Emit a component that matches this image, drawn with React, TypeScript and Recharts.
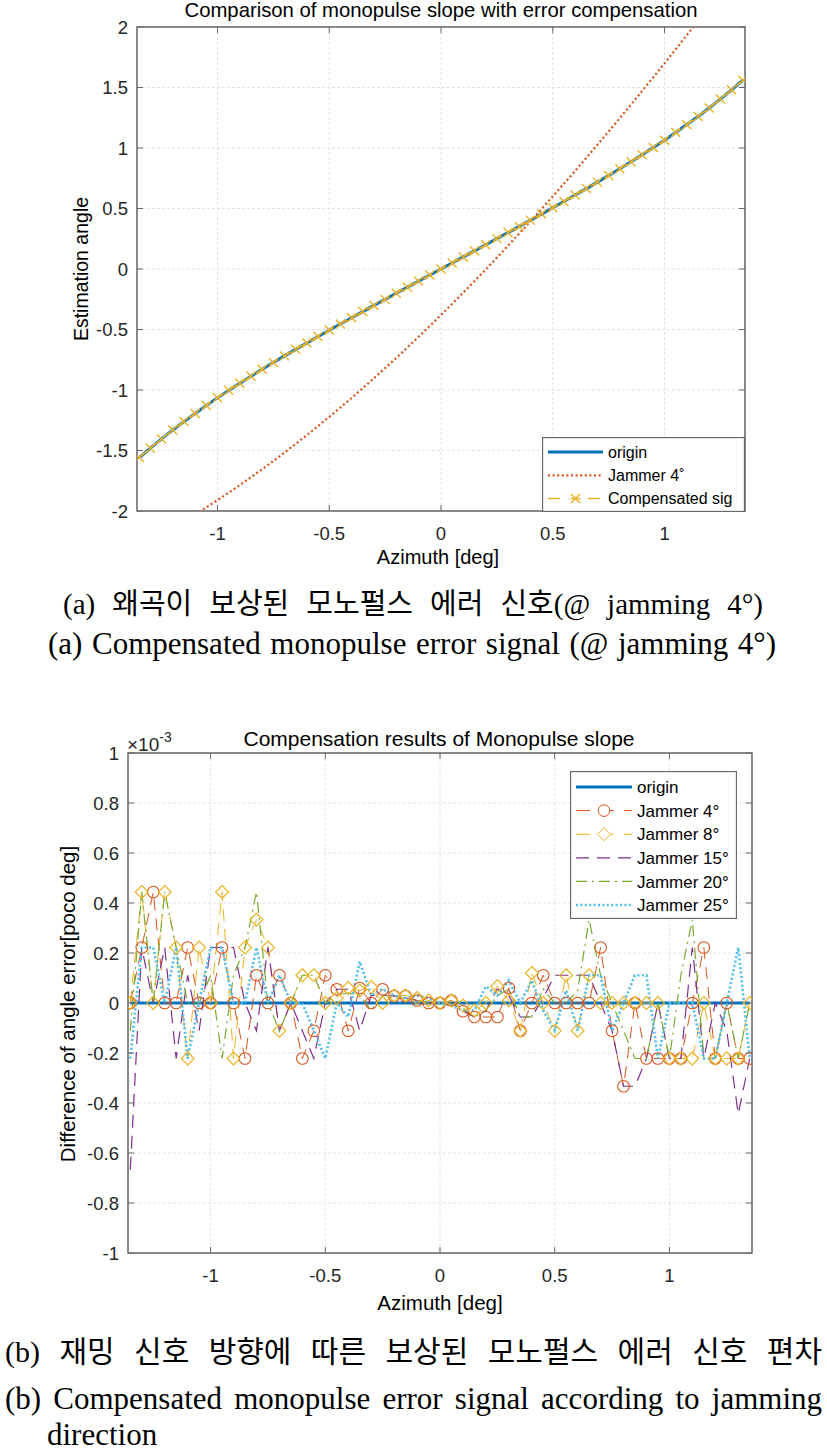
import React from 'react';
import { LineChart, Line, XAxis, YAxis, CartesianGrid, ReferenceArea, Legend } from 'recharts';

// azimuth samples [deg]
const azimuth = [
  -1.35, -1.3, -1.25, -1.2, -1.15, -1.1, -1.05, -1, -0.95, -0.9, -0.85, -0.8, -0.75, -0.7,
  -0.65, -0.6, -0.55, -0.5, -0.45, -0.4, -0.35, -0.3, -0.25, -0.2, -0.15, -0.1, -0.05, 0,
  0.05, 0.1, 0.15, 0.2, 0.25, 0.3, 0.35, 0.4, 0.45, 0.5, 0.55, 0.6, 0.65, 0.7, 0.75, 0.8,
  0.85, 0.9, 0.95, 1, 1.05, 1.1, 1.15, 1.2, 1.25, 1.3, 1.35,
];

// (a) monopulse slope
const originSlope = [
  -1.56, -1.481, -1.404, -1.331, -1.261, -1.194, -1.128, -1.065, -1.004, -0.944, -0.886, -0.829, -0.773, -0.718,
  -0.664, -0.611, -0.558, -0.506, -0.454, -0.403, -0.352, -0.301, -0.251, -0.2, -0.15, -0.1, -0.05, 0,
  0.05, 0.1, 0.15, 0.2, 0.251, 0.301, 0.352, 0.403, 0.454, 0.506, 0.558, 0.611, 0.664, 0.718, 0.773, 0.829,
  0.886, 0.944, 1.004, 1.065, 1.128, 1.194, 1.261, 1.331, 1.404, 1.481, 1.56,
];
const jammer4Slope = [
  -2.291, -2.242, -2.191, -2.138, -2.084, -2.028, -1.97, -1.91, -1.849, -1.786, -1.721, -1.655, -1.587, -1.517,
  -1.446, -1.373, -1.298, -1.222, -1.145, -1.066, -0.985, -0.903, -0.819, -0.734, -0.648, -0.56, -0.471, -0.38,
  -0.288, -0.194, -0.1, -0.004, 0.094, 0.193, 0.293, 0.394, 0.496, 0.6, 0.705, 0.811, 0.918, 1.027, 1.136, 1.247,
  1.359, 1.472, 1.585, 1.7, 1.816, 1.933, 2.051, 2.17, 2.29, 2.41, 2.531,
];
const compensatedSlope = [
  -1.558, -1.481, -1.405, -1.331, -1.26, -1.194, -1.129, -1.065, -1.003, -0.944, -0.887, -0.829, -0.772, -0.718,
  -0.664, -0.612, -0.558, -0.505, -0.454, -0.403, -0.352, -0.302, -0.251, -0.2, -0.151, -0.1, -0.05, 0,
  0.05, 0.1, 0.15, 0.2, 0.251, 0.302, 0.352, 0.403, 0.455, 0.506, 0.558, 0.611, 0.665, 0.718, 0.773, 0.829,
  0.886, 0.945, 1.004, 1.065, 1.128, 1.193, 1.261, 1.331, 1.404, 1.481, 1.559,
];

// (b) difference of angle error, x10^-3
const originDiff = [
  0, 0, 0, 0, 0, 0, 0, 0, 0, 0, 0, 0, 0, 0, 0, 0, 0, 0, 0, 0, 0, 0, 0, 0, 0, 0, 0, 0,
  0, 0, 0, 0, 0, 0, 0, 0, 0, 0, 0, 0, 0, 0, 0, 0, 0, 0, 0, 0, 0, 0, 0, 0, 0, 0, 0,
];
const jam4Diff = [
  0, 0.222, 0.444, 0, 0, 0.222, 0, 0, 0.222, 0, -0.222, 0.111, 0, 0.111,
  0, -0.222, -0.111, 0.111, 0.055, -0.111, 0.06, 0, 0.055, 0.028, 0.028, 0.01, 0, 0,
  0.01, -0.033, -0.056, -0.056, -0.056, 0.06, -0.111, 0, 0.111, 0, 0, 0, 0, 0.222, -0.111, -0.333,
  0, -0.222, -0.222, -0.222, -0.222, 0, 0.222, -0.222, 0, -0.222, -0.222,
];
const jam8Diff = [
  0, 0.444, 0, 0.444, 0.222, -0.222, 0.222, 0, 0.444, -0.222, 0.222, 0.333, 0.222, -0.111,
  0, 0.111, 0.111, 0, 0.02, 0.06, 0.05, 0.064, 0, 0.03, 0.03, 0.02, 0.01, 0,
  0.01, -0.01, -0.03, 0, 0.067, 0.01, -0.111, 0.12, 0, -0.111, 0.111, -0.111, 0.111, 0, 0, 0,
  0, 0, 0, -0.222, -0.222, -0.222, 0, -0.222, -0.222, -0.222, 0,
];
const jam15Diff = [
  -0.667, 0.222, 0, 0.222, -0.222, 0.111, -0.111, 0.222, 0.222, 0.222, 0, -0.111, 0.222, -0.111,
  0, -0.111, -0.222, 0, 0.055, 0.055, -0.111, 0.03, 0.03, 0.028, 0.02, 0.01, 0, 0,
  0, -0.03, -0.056, -0.03, 0.056, 0.03, -0.056, -0.056, 0.02, 0.111, 0.111, 0.111, 0.111, 0, -0.111, -0.333,
  -0.333, -0.222, 0, -0.222, -0.222, 0.222, -0.222, 0, -0.111, -0.444, -0.222,
];
const jam20Diff = [
  -0.111, 0.444, 0, 0.444, 0.222, 0, 0, 0.111, -0.222, 0.111, 0.222, 0.444, 0, -0.111,
  0, 0.111, 0.111, 0, 0.03, 0.04, 0.03, -0.03, 0.03, 0.02, 0.02, 0.01, 0, 0,
  0, -0.02, -0.056, -0.03, 0.03, 0.056, -0.056, -0.056, 0.056, 0, 0, 0.05, 0.333, 0.111, 0, -0.111,
  -0.222, -0.222, 0, -0.222, 0.111, 0.333, -0.222, -0.222, 0, -0.222, 0,
];
const jam25Diff = [
  -0.222, 0.222, 0.222, 0, 0.222, -0.222, 0, 0.222, 0.222, 0, 0, 0.222, 0, 0.111,
  0, 0, -0.111, -0.222, 0, -0.056, 0.166, 0.03, 0.056, 0.03, 0.02, 0.03, 0.02, 0,
  -0.01, -0.03, -0.03, 0.067, 0.03, 0.09, 0, 0.09, -0.03, -0.111, 0.05, -0.111, 0.111, 0.111, -0.111, 0,
  0.111, 0.111, -0.222, 0, 0, 0, -0.222, -0.222, 0, 0.222, -0.222,
];

const azTicks = [-1, -0.5, 0, 0.5, 1];
const slopeTicks = [2, 1.5, 1, 0.5, 0, -0.5, -1, -1.5, -2];
const diffTicks = [1, 0.8, 0.6, 0.4, 0.2, 0, -0.2, -0.4, -0.6, -0.8, -1];

const slopeData = azimuth.map((az, i) => ({
  az,
  origin: originSlope[i],
  jammer: jammer4Slope[i],
  comp: compensatedSlope[i],
}));

const diffData = azimuth.map((az, i) => ({
  az,
  origin: originDiff[i],
  j4: jam4Diff[i],
  j8: jam8Diff[i],
  j15: jam15Diff[i],
  j20: jam20Diff[i],
  j25: jam25Diff[i],
}));

const SANS = '"Liberation Sans", Arial, Helvetica, sans-serif';
const SERIF = '"Liberation Serif", "Times New Roman", "Noto Sans CJK KR", serif';
const AXIS = '#666666';
const GRID = '#e2e2e2';

const BLUE = '#0072BD';
const RED = '#D95319';
const YELLOW = '#EDB120';
const PURPLE = '#7E2F8E';
const GREEN = '#77AC30';
const CYAN = '#4DBEEE';

type Box = { L: number; T: number; R: number; B: number };

// tick labels outside, MATLAB style inward tick marks on both sides
const makeYTick = (g: Box, fontSize: number) => (props: any) => {
  const { y, payload } = props;
  return (
    <g>
      <line x1={g.L} x2={g.L + 6} y1={y} y2={y} stroke={AXIS} />
      <line x1={g.R - 6} x2={g.R} y1={y} y2={y} stroke={AXIS} />
      <text x={g.L - 9} y={y} dy="0.36em" textAnchor="end" fontSize={fontSize} fontFamily={SANS} fill="#262626">
        {String(payload.value)}
      </text>
    </g>
  );
};

const makeXTick = (g: Box, fontSize: number, gap: number) => (props: any) => {
  const { x, payload } = props;
  return (
    <g>
      <line x1={x} x2={x} y1={g.B} y2={g.B - 6} stroke={AXIS} />
      <line x1={x} x2={x} y1={g.T} y2={g.T + 6} stroke={AXIS} />
      <text x={x} y={g.B + gap} dy="0.36em" textAnchor="middle" fontSize={fontSize} fontFamily={SANS} fill="#262626">
        {String(payload.value)}
      </text>
    </g>
  );
};

const CrossDot = (props: any) => {
  const { cx, cy, index } = props;
  if (cx == null || cy == null) return <g key={index} />;
  const s = 4.5;
  return (
    <g key={index} stroke={YELLOW} strokeWidth={1.4}>
      <line x1={cx - s} y1={cy - s} x2={cx + s} y2={cy + s} />
      <line x1={cx - s} y1={cy + s} x2={cx + s} y2={cy - s} />
    </g>
  );
};

const CircleDot = (props: any) => {
  const { cx, cy, index } = props;
  if (cx == null || cy == null) return <g key={index} />;
  return <circle key={index} cx={cx} cy={cy} r={5.8} fill="none" stroke={RED} strokeWidth={1.1} />;
};

const DiamondDot = (props: any) => {
  const { cx, cy, index } = props;
  if (cx == null || cy == null) return <g key={index} />;
  const s = 6.5;
  return (
    <path
      key={index}
      d={`M${cx},${cy - s}L${cx + s},${cy}L${cx},${cy + s}L${cx - s},${cy}Z`}
      fill="none"
      stroke={YELLOW}
      strokeWidth={1.1}
    />
  );
};

type LegendItem = {
  name: string;
  color: string;
  width: number;
  dash?: string;
  marker?: 'circle' | 'diamond' | 'cross';
};

const slopeLegend: LegendItem[] = [
  { name: 'origin', color: BLUE, width: 3 },
  { name: 'Jammer 4˚', color: RED, width: 2.2, dash: '2 2.6' },
  { name: 'Compensated sig', color: YELLOW, width: 1.5, dash: '12 8', marker: 'cross' },
];

const diffLegend: LegendItem[] = [
  { name: 'origin', color: BLUE, width: 3 },
  { name: 'Jammer 4°', color: RED, width: 1, dash: '14 10', marker: 'circle' },
  { name: 'Jammer 8°', color: YELLOW, width: 1, dash: '14 10', marker: 'diamond' },
  { name: 'Jammer 15°', color: PURPLE, width: 1.2, dash: '13 8' },
  { name: 'Jammer 20°', color: GREEN, width: 1.2, dash: '11 5 2 5' },
  { name: 'Jammer 25°', color: CYAN, width: 2.6, dash: '2 2.4' },
];

const LegendBox = ({
  items, width, height, rowTop, rowGap, x0, x1, textX, fontSize,
}: {
  items: LegendItem[]; width: number; height: number; rowTop: number; rowGap: number;
  x0: number; x1: number; textX: number; fontSize: number;
}) => (
  <svg width={width} height={height} style={{ display: 'block' }}>
    <rect x={0.5} y={0.5} width={width - 1} height={height - 1} fill="#fff" stroke={AXIS} strokeWidth={1.3} />
    {items.map((it, i) => {
      const y = rowTop + i * rowGap;
      const mx = (x0 + x1) / 2;
      return (
        <g key={it.name}>
          <line x1={x0} x2={x1} y1={y} y2={y} stroke={it.color} strokeWidth={it.width} strokeDasharray={it.dash} />
          {it.marker === 'circle' && <circle cx={mx} cy={y} r={5.8} fill="#fff" stroke={it.color} />}
          {it.marker === 'diamond' && (
            <path d={`M${mx},${y - 6.5}L${mx + 6.5},${y}L${mx},${y + 6.5}L${mx - 6.5},${y}Z`} fill="#fff" stroke={it.color} />
          )}
          {it.marker === 'cross' && (
            <g stroke={it.color} strokeWidth={1.4}>
              <rect x={mx - 7} y={y - 6} width={14} height={12} fill="#fff" stroke="none" />
              <line x1={mx - 4.5} y1={y - 4.5} x2={mx + 4.5} y2={y + 4.5} />
              <line x1={mx - 4.5} y1={y + 4.5} x2={mx + 4.5} y2={y - 4.5} />
              <line x1={mx - 5} y1={y} x2={mx + 5} y2={y} />
            </g>
          )}
          <text x={textX} y={y} dy="0.36em" fontSize={fontSize} fontFamily={SANS} fill="#000">
            {it.name}
          </text>
        </g>
      );
    })}
  </svg>
);

const textAbs = (cx: number, cy: number, size: number, family: string): React.CSSProperties => ({
  position: 'absolute',
  left: cx,
  top: cy,
  transform: 'translate(-50%, -50%)',
  fontSize: size,
  lineHeight: `${size}px`,
  fontFamily: family,
  whiteSpace: 'nowrap',
  color: '#000',
});

const captionLine = (left: number, right: number, cy: number, size: number): React.CSSProperties => ({
  position: 'absolute',
  left,
  width: right - left,
  top: cy - size / 2,
  fontSize: size,
  lineHeight: `${size}px`,
  fontFamily: SERIF,
  whiteSpace: 'nowrap',
  textAlign: 'justify',
  textAlignLast: 'justify',
  color: '#000',
});

// plot boxes in each chart's own coordinates
const C1: Box = { L: 137, T: 27, R: 745, B: 511 };
const C1_H = 600;
const C2_TOP = 700;
const C2: Box = { L: 128, T: 53, R: 752, B: 553 };
const C2_H = 600;
const W = 827;

const SlopeChart = () => (
  <LineChart
    width={W}
    height={C1_H}
    data={slopeData}
    margin={{ top: C1.T, right: W - C1.R, bottom: C1_H - C1.B - 30, left: C1.L - 40 }}
  >
    <CartesianGrid stroke={GRID} strokeDasharray="3 2" />
    <XAxis
      type="number"
      dataKey="az"
      domain={[-1.36, 1.36]}
      ticks={azTicks}
      allowDataOverflow
      height={30}
      axisLine={false}
      tickLine={false}
      tick={makeXTick(C1, 18.5, 22)}
    />
    <YAxis
      type="number"
      domain={[-2, 2]}
      ticks={slopeTicks}
      allowDataOverflow
      width={40}
      axisLine={false}
      tickLine={false}
      tick={makeYTick(C1, 18.5)}
    />
    <ReferenceArea x1={-1.36} x2={1.36} y1={-2} y2={2} fill="none" stroke={AXIS} strokeWidth={1.5} ifOverflow="visible" />
    <Line dataKey="origin" type="linear" stroke={BLUE} strokeWidth={3} dot={false} isAnimationActive={false} />
    <Line dataKey="jammer" type="linear" stroke={RED} strokeWidth={2.2} strokeDasharray="2 2.6" dot={false} isAnimationActive={false} />
    <Line dataKey="comp" type="linear" stroke={YELLOW} strokeWidth={1.5} strokeDasharray="10 6" dot={CrossDot} isAnimationActive={false} />
    <Legend
      layout="vertical"
      align="center"
      verticalAlign="middle"
      wrapperStyle={{ left: 542, top: 437, width: 203, height: 75 }}
      content={() => (
        <LegendBox items={slopeLegend} width={203} height={75} rowTop={15} rowGap={23.3} x0={6} x1={61} textX={66} fontSize={16} />
      )}
    />
  </LineChart>
);

const DiffChart = () => (
  <LineChart
    width={W}
    height={C2_H}
    data={diffData}
    margin={{ top: C2.T, right: W - C2.R, bottom: C2_H - C2.B - 30, left: C2.L - 40 }}
  >
    <CartesianGrid stroke={GRID} strokeDasharray="3 2" />
    <XAxis
      type="number"
      dataKey="az"
      domain={[-1.36, 1.36]}
      ticks={azTicks}
      allowDataOverflow
      height={30}
      axisLine={false}
      tickLine={false}
      tick={makeXTick(C2, 18.5, 22)}
    />
    <YAxis
      type="number"
      domain={[-1, 1]}
      ticks={diffTicks}
      allowDataOverflow
      width={40}
      axisLine={false}
      tickLine={false}
      tick={makeYTick(C2, 18.5)}
    />
    <ReferenceArea x1={-1.36} x2={1.36} y1={-1} y2={1} fill="none" stroke={AXIS} strokeWidth={1.5} ifOverflow="visible" />
    <Line dataKey="origin" type="linear" stroke={BLUE} strokeWidth={3} dot={false} isAnimationActive={false} />
    <Line dataKey="j4" type="linear" stroke={RED} strokeWidth={1} strokeDasharray="12 8" dot={CircleDot} isAnimationActive={false} />
    <Line dataKey="j8" type="linear" stroke={YELLOW} strokeWidth={1} strokeDasharray="12 8" dot={DiamondDot} isAnimationActive={false} />
    <Line dataKey="j15" type="linear" stroke={PURPLE} strokeWidth={1.2} strokeDasharray="13 8" dot={false} isAnimationActive={false} />
    <Line dataKey="j20" type="linear" stroke={GREEN} strokeWidth={1.2} strokeDasharray="11 5 2 5" dot={false} isAnimationActive={false} />
    <Line dataKey="j25" type="linear" stroke={CYAN} strokeWidth={2.6} strokeDasharray="2 2.4" dot={false} isAnimationActive={false} />
    <Legend
      layout="vertical"
      align="center"
      verticalAlign="middle"
      wrapperStyle={{ left: 570, top: 71, width: 167, height: 148 }}
      content={() => (
        <LegendBox items={diffLegend} width={167} height={148} rowTop={16} rowGap={23.6} x0={6} x1={62} textX={67} fontSize={17} />
      )}
    />
  </LineChart>
);

export default function App() {
  return (
    <div style={{ position: 'absolute', left: 0, top: 0, width: W, height: 1453, background: '#fff', overflow: 'hidden' }}>
      <div style={{ position: 'absolute', left: 0, top: 0 }}>
        <SlopeChart />
      </div>
      <div style={textAbs(441, 10, 20.3, SANS)}>Comparison of monopulse slope with error compensation</div>
      <div style={{ ...textAbs(82, 269, 19.5, SANS), transform: 'translate(-50%, -50%) rotate(-90deg)' }}>Estimation angle</div>
      <div style={textAbs(438, 557, 20, SANS)}>Azimuth [deg]</div>

      <div style={captionLine(63, 763, 604, 29)}>(a) 왜곡이 보상된 모노펄스 에러 신호(@ jamming 4°)</div>
      <div style={captionLine(48, 776, 643, 31)}>(a) Compensated monopulse error signal (@ jamming 4°)</div>

      <div style={{ position: 'absolute', left: 0, top: C2_TOP }}>
        <DiffChart />
      </div>
      <div style={textAbs(439, 738, 21, SANS)}>Compensation results of Monopulse slope</div>
      <div style={{ position: 'absolute', left: 127, top: 735, fontFamily: SANS, fontSize: 19, lineHeight: '19px', whiteSpace: 'nowrap', color: '#262626' }}>
        ×10<sup style={{ fontSize: 14, verticalAlign: 'top', position: 'relative', top: -7 }}>-3</sup>
      </div>
      <div style={{ ...textAbs(68, 1004, 20.5, SANS), transform: 'translate(-50%, -50%) rotate(-90deg)' }}>
        Difference of angle error[poco deg]
      </div>
      <div style={textAbs(440, 1303, 20.5, SANS)}>Azimuth [deg]</div>

      <div style={captionLine(5, 822, 1352, 30)}>(b) 재밍 신호 방향에 따른 보상된 모노펄스 에러 신호 편차</div>
      <div style={captionLine(5, 822, 1398, 31)}>(b) Compensated monopulse error signal according to jamming</div>
      <div style={{ position: 'absolute', left: 47, top: 1434 - 15.5, fontSize: 31, lineHeight: '31px', fontFamily: SERIF, color: '#000' }}>
        direction
      </div>
    </div>
  );
}
